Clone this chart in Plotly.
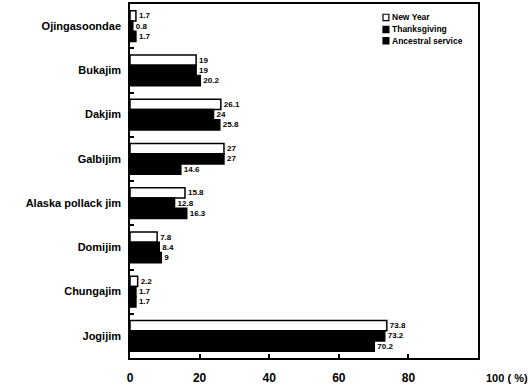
import plotly.graph_objects as go

categories = ["Ojingasoondae", "Bukajim", "Dakjim", "Galbijim",
              "Alaska pollack jim", "Domijim", "Chungajim", "Jogijim"]
new_year = [1.7, 19, 26.1, 27, 15.8, 7.8, 2.2, 73.8]
thanksgiving = [0.8, 19, 24, 27, 12.8, 8.4, 1.7, 73.2]
ancestral = [1.7, 20.2, 25.8, 14.6, 16.3, 9, 1.7, 70.2]
series_names = ["New Year", "Thanksgiving", "Ancestral service"]
x_ticks = [0, 20, 40, 60, 80]
x_last_label = "100 ( %)"

FONT = "Liberation Sans, Arial, Helvetica, sans-serif"

fig = go.Figure()
series = [new_year, thanksgiving, ancestral]
fills = ["white", "black", "black"]
for name, vals, fill in zip(series_names, series, fills):
    fig.add_trace(go.Bar(
        y=categories, x=vals, orientation="h", name=name,
        marker=dict(color=fill, line=dict(color="black", width=1.5)),
        text=[f"{v:g}" for v in vals], textposition="outside",
        textfont=dict(family=FONT, size=8, color="black", weight="bold"),
        constraintext="none", cliponaxis=False, showlegend=False,
    ))

fig.update_layout(
    width=528, height=389,
    margin=dict(l=130, r=50, t=4, b=31),
    paper_bgcolor="white", plot_bgcolor="white",
    barmode="group", bargap=0.3, bargroupgap=0,
    font=dict(family=FONT, size=12, color="black", weight="bold"),
)
fig.update_xaxes(
    range=[0, 100], tickvals=x_ticks, ticktext=[str(t) for t in x_ticks],
    ticks="inside", ticklen=4, tickwidth=1.5, tickcolor="black",
    showline=True, linecolor="black", linewidth=1.5, mirror=True,
    showgrid=False, zeroline=False, automargin=False,
    tickfont=dict(family=FONT, size=12, weight="bold"),
    ticklabelstandoff=8,
)
fig.update_yaxes(
    autorange="reversed", ticks="inside", tickson="boundaries",
    ticklen=4, tickwidth=1.5, tickcolor="black",
    showline=True, linecolor="black", linewidth=1.5, mirror=True,
    showgrid=False, automargin=False,
    tickfont=dict(family=FONT, size=11, weight="bold"),
    ticklabelstandoff=5,
)
fig.add_annotation(
    x=100, xref="x", y=0, yref="paper", xanchor="left", yanchor="top",
    xshift=6, yshift=-12, text=x_last_label, showarrow=False,
    font=dict(family=FONT, size=11, weight="bold"),
)

# legend (manual, compact)
leg_x0 = 0.727
leg_y = [0.962, 0.928, 0.896]
for name, fill, yy in zip(series_names, fills, leg_y):
    fig.add_shape(type="rect", xref="paper", yref="paper",
                  x0=leg_x0, x1=leg_x0 + 0.017, y0=yy - 0.009, y1=yy + 0.009,
                  fillcolor=fill, line=dict(color="black", width=1.2))
    fig.add_annotation(x=leg_x0 + 0.02, y=yy, xref="paper", yref="paper",
                       xanchor="left", yanchor="middle", text=name,
                       showarrow=False,
                       font=dict(family=FONT, size=8.5, weight="bold"))

fig.write_html("out.html", config={"displayModeBar": False},
               post_script="document.body.style.margin='0';")
